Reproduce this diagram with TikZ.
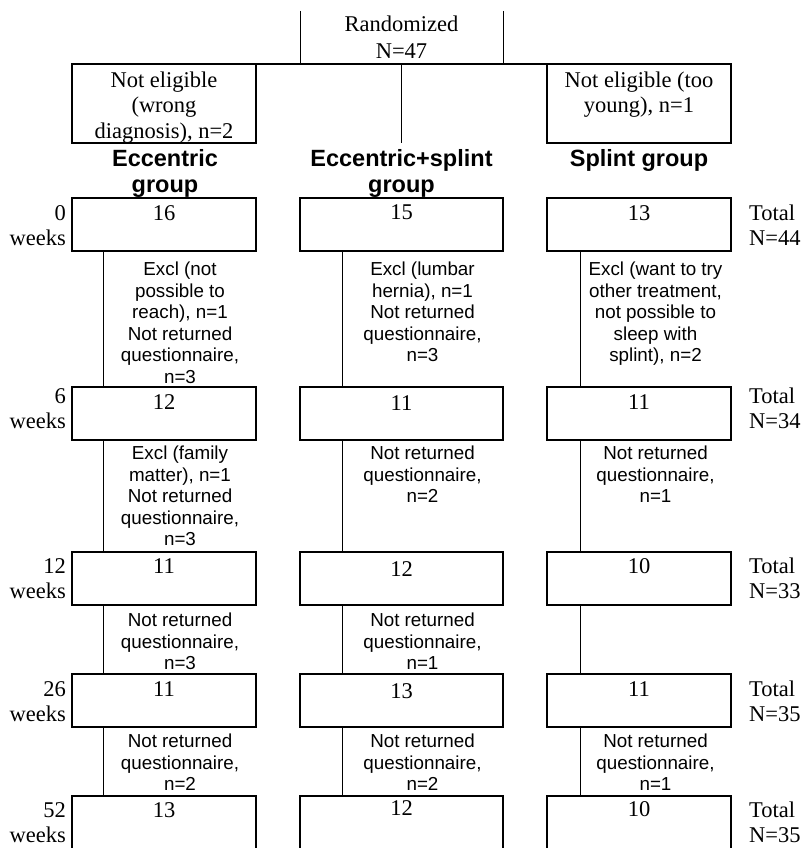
\documentclass[tikz,border=0pt]{standalone}
\usepackage{fontspec}
\setmainfont{Liberation Serif}
\setsansfont{Liberation Sans}
\def\drop(#1)(#2)(#3){\draw[link] ([xshift=#3]#1.south west) -- ([xshift=#3]#2.north west);}

\begin{document}
\begin{tikzpicture}[x=1pt, y=-1pt,
	box/.style={draw, line width=1.3pt, inner sep=0pt, outer sep=0pt, minimum height=53pt},
	link/.style={line width=0.9pt},
	serif/.style={inner sep=0pt, align=center, font=\fontsize{22.5}{25.5}\selectfont},
	num/.style={serif, anchor=north},
	note/.style={anchor=north, inner sep=0pt, align=center, font=\sffamily\fontsize{18.8}{21.5}\selectfont},
	head/.style={anchor=north, inner sep=0pt, align=center, font=\sffamily\bfseries\fontsize{23.5}{26}\selectfont},
	week/.style={serif, anchor=north east, align=right, font=\fontsize{22.5}{25}\selectfont},
	total/.style={serif, anchor=north west, align=left, font=\fontsize{22.5}{25}\selectfont}]
			\useasboundingbox (0,0) rectangle (801,848);
			\clip (0,0) rectangle (801,848);
			%%%%% START %%%%%
			
			\node[minimum width=203pt, minimum height=53pt, inner sep=0pt, outer sep=0pt] (rand) at (401.5,37.5) {};
			\node[num, font=\fontsize{22.5}{27}\selectfont] (randtxt) at (401.5,16) {Randomized\\N=47};
			\draw[link] (rand.north west) -- (rand.south west);
			\draw[link] (rand.north east) -- (rand.south east);
			
			\node[box, minimum width=184pt, minimum height=79pt] (nel) at (164,103.5) {};
			\node[num] (neltxt) at (164,71.5) {Not eligible\\(wrong\\diagnosis), n=2};
			\node[box, minimum width=184pt, minimum height=79pt] (ner) at (639,103.5) {};
			\node[num] (nertxt) at (639,71.5) {Not eligible (too\\young), n=1};
			\draw[line width=1.3pt] (nel.north east) -- (ner.north west);
			\draw[link] (rand.south) -- (rand.south |- nel.south);
			
			\node[head] (ecc) at (165,149.5) {Eccentric\\group};
			\node[head] (eccspl) at (401.5,149.5) {Eccentric+splint\\group};
			\node[head] (spl) at (639,149.5) {Splint group};
			
			%% 0 weeks
			\node[box, minimum width=184pt] (a0) at (164,224.5) {};
			\node[box, minimum width=203pt] (b0) at (401.5,224.5) {};
			\node[box, minimum width=184pt] (c0) at (639,224.5) {};
			\node[num] (a0n) at (164,205) {16};
			\node[num] (b0n) at (401.5,204) {15};
			\node[num] (c0n) at (639,205) {13};
			\node[week] (w0) at (66,205) {0\\weeks};
			\node[total] (t0) at (749,205) {Total\\N=44};
			
			\node[note] (a0x) at (180,262) {Excl (not\\possible to\\reach), n=1\\Not returned\\questionnaire,\\n=3};
			\node[note] (b0x) at (422.5,262) {Excl (lumbar\\hernia), n=1\\Not returned\\questionnaire,\\n=3};
			\node[note] (c0x) at (655.5,262) {Excl (want to try\\other treatment,\\not possible to\\sleep with\\splint), n=2};
			
			%% 6 weeks
			\node[box, minimum width=184pt] (a6) at (164,413.5) {};
			\node[box, minimum width=203pt] (b6) at (401.5,413.5) {};
			\node[box, minimum width=184pt] (c6) at (639,413.5) {};
			\node[num] (a6n) at (164,394) {12};
			\node[num] (b6n) at (401.5,395) {11};
			\node[num] (c6n) at (639,394) {11};
			\node[week] (w6) at (66,388) {6\\weeks};
			\node[total] (t6) at (749,388) {Total\\N=34};
			
			\node[note] (a6x) at (180,446) {Excl (family\\matter), n=1\\Not returned\\questionnaire,\\n=3};
			\node[note] (b6x) at (422.5,446) {Not returned\\questionnaire,\\n=2};
			\node[note] (c6x) at (655.5,446) {Not returned\\questionnaire,\\n=1};
			
			%% 12 weeks
			\node[box, minimum width=184pt] (a12) at (164,578.5) {};
			\node[box, minimum width=203pt] (b12) at (401.5,578.5) {};
			\node[box, minimum width=184pt] (c12) at (639,578.5) {};
			\node[num] (a12n) at (164,558) {11};
			\node[num] (b12n) at (401.5,561) {12};
			\node[num] (c12n) at (639,558) {10};
			\node[week] (w12) at (66,558) {12\\weeks};
			\node[total] (t12) at (749,558) {Total\\N=33};
			
			\node[note] (a12x) at (180,613) {Not returned\\questionnaire,\\n=3};
			\node[note] (b12x) at (422.5,613) {Not returned\\questionnaire,\\n=1};
			
			%% 26 weeks
			\node[box, minimum width=184pt] (a26) at (164,700.5) {};
			\node[box, minimum width=203pt] (b26) at (401.5,700.5) {};
			\node[box, minimum width=184pt] (c26) at (639,700.5) {};
			\node[num] (a26n) at (164,681) {11};
			\node[num] (b26n) at (401.5,683) {13};
			\node[num] (c26n) at (639,681) {11};
			\node[week] (w26) at (66,681) {26\\weeks};
			\node[total] (t26) at (749,681) {Total\\N=35};
			
			\node[note] (a26x) at (180,734) {Not returned\\questionnaire,\\n=2};
			\node[note] (b26x) at (422.5,734) {Not returned\\questionnaire,\\n=2};
			\node[note] (c26x) at (655.5,734) {Not returned\\questionnaire,\\n=1};
			
			%% 52 weeks
			\node[box, minimum width=184pt, minimum height=60pt] (a52) at (164,826) {};
			\node[box, minimum width=203pt, minimum height=60pt] (b52) at (401.5,826) {};
			\node[box, minimum width=184pt, minimum height=60pt] (c52) at (639,826) {};
			\node[num] (a52n) at (164,802) {13};
			\node[num] (b52n) at (401.5,800) {12};
			\node[num] (c52n) at (639,801) {10};
			\node[week] (w52) at (66,802) {52\\weeks};
			\node[total] (t52) at (749,802) {Total\\N=35};
			
			\drop(a0)(a6)(31pt)
			\drop(a6)(a12)(31pt)
			\drop(a12)(a26)(31pt)
			\drop(a26)(a52)(31pt)
			\drop(b0)(b6)(42pt)
			\drop(b6)(b12)(42pt)
			\drop(b12)(b26)(42pt)
			\drop(b26)(b52)(42pt)
			\drop(c0)(c6)(33pt)
			\drop(c6)(c12)(33pt)
			\drop(c12)(c26)(33pt)
			\drop(c26)(c52)(33pt)
			
			%%%%% END %%%%%
\end{tikzpicture}
\end{document}
